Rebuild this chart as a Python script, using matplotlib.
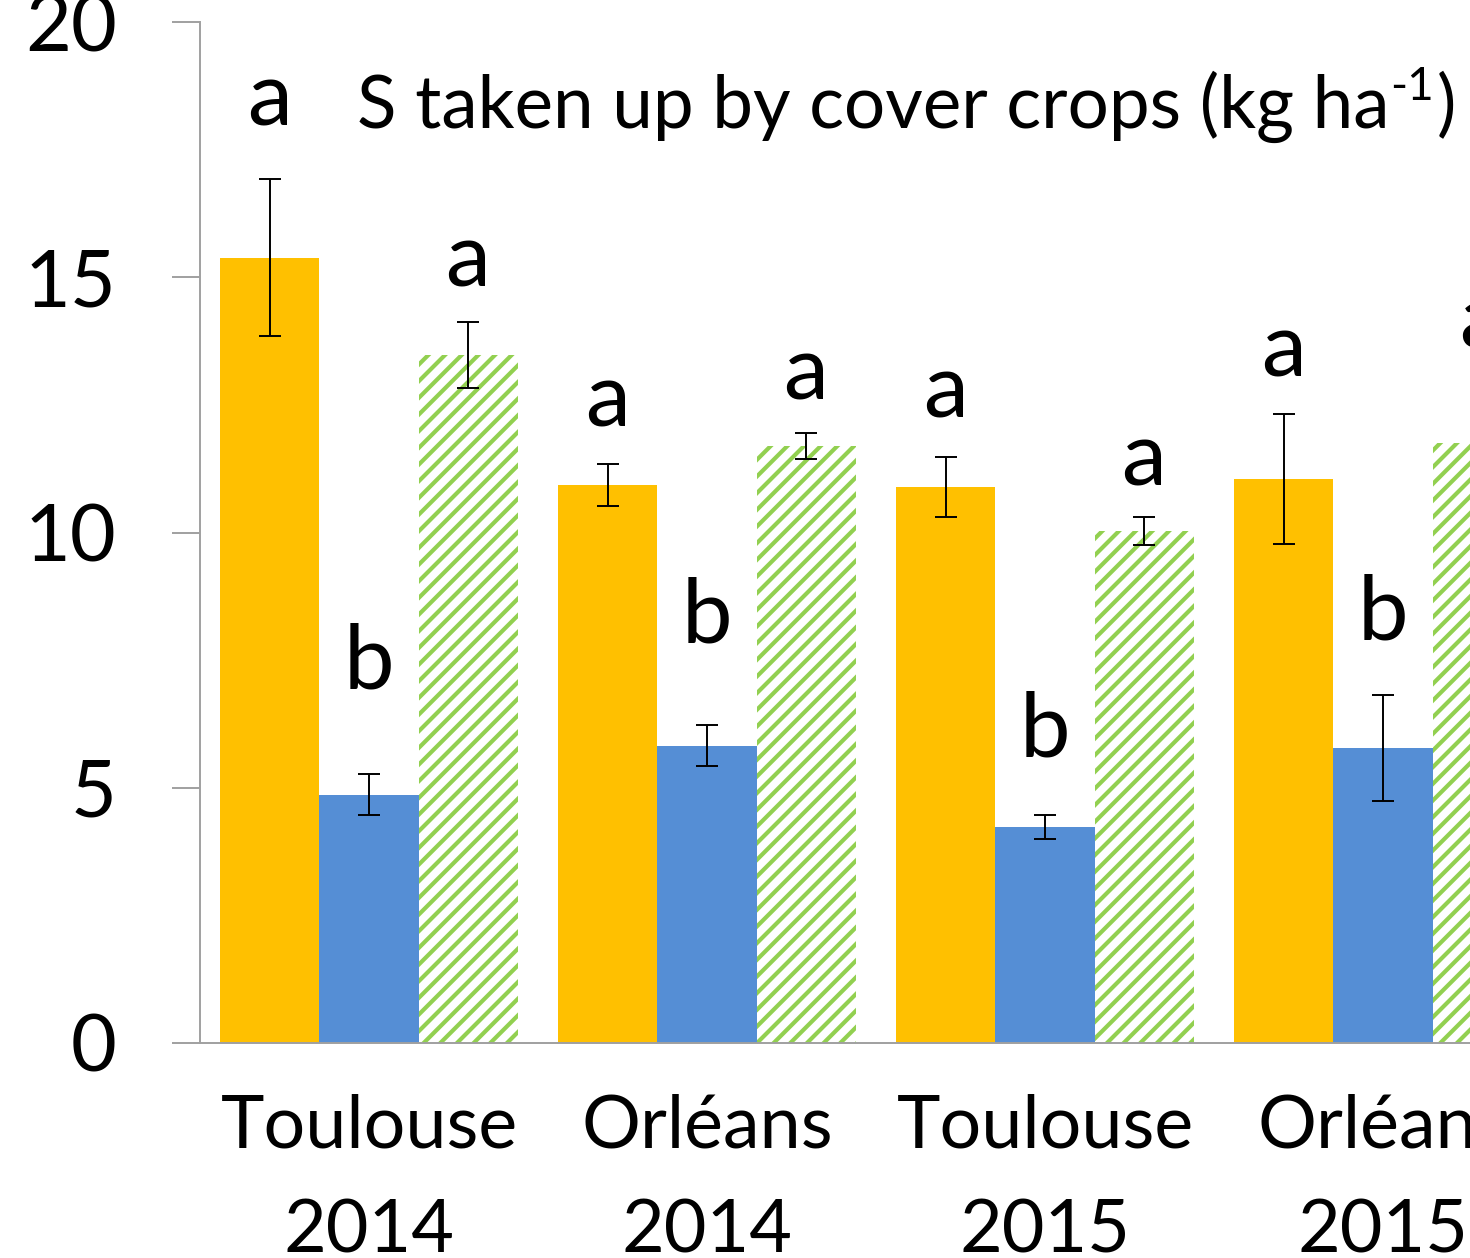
import numpy as np
import matplotlib
matplotlib.use("Agg")
import matplotlib.pyplot as plt

# values
sites = ["Toulouse\n2014", "Orléans\n2014", "Toulouse\n2015", "Orléans\n2015"]
orange_vals = [15.38, 10.93, 10.89, 11.05]
orange_err = [1.54, 0.42, 0.59, 1.28]
blue_vals = [4.86, 5.82, 4.23, 5.78]
blue_err = [0.40, 0.40, 0.24, 1.04]
green_vals = [13.48, 11.69, 10.03, 11.75]
green_err = [0.65, 0.26, 0.28, 0.60]

# significance letters and the height of their baselines
orange_letters = ["a", "a", "a", "a"]
blue_letters = ["b", "b", "b", "b"]
green_letters = ["a", "a", "a", "a"]
orange_lab_y = [17.98, 12.07, 12.26, 13.05]
blue_lab_y = [6.95, 7.84, 5.62, 7.90]
green_lab_y = [14.81, 12.60, 10.93, 13.63]

FONT = "Lato"
plt.rcParams['font.family'] = [FONT, 'DejaVu Sans']
plt.rcParams['hatch.linewidth'] = 3.0

ORANGE = "#FFC000"
BLUE = "#558ED5"
GREEN = "#92D050"
GREY = "#A0A0A0"

fig = plt.figure(figsize=(14.7, 12.58), dpi=100)
ax = fig.add_axes([200/1470, 215/1258, 1270/1470, 1021/1258])

x = np.arange(len(sites))
w = 0.293

ax.bar(x - w, orange_vals, w, color=ORANGE, linewidth=0)
ax.bar(x, blue_vals, w, color=BLUE, linewidth=0)
ax.bar(x + w, green_vals, w, color="white", edgecolor=GREEN, linewidth=0, hatch="//")

for off, v, e in [(-w, orange_vals, orange_err), (0, blue_vals, blue_err), (w, green_vals, green_err)]:
    ax.errorbar(x + off, v, yerr=e, fmt="none", ecolor="black", elinewidth=1.4,
                capsize=8, capthick=1.4)

for off, letters, ys in [(-w, orange_letters, orange_lab_y), (0, blue_letters, blue_lab_y),
                         (w, green_letters, green_lab_y)]:
    for xi, l, yy in zip(x, letters, ys):
        ax.text(xi + off, yy, l, ha="center", va="baseline", fontsize=65, clip_on=False)

ax.set_xlim(-0.5, -0.5 + 1270/338)
ax.set_ylim(0, 20)
ax.set_yticks([0, 5, 10, 15, 20])
ax.set_xticks(x)
ax.set_xticklabels(sites, linespacing=1.72)

for s in ["top", "right"]:
    ax.spines[s].set_visible(False)
for s in ["left", "bottom"]:
    ax.spines[s].set_color(GREY)
    ax.spines[s].set_linewidth(1.4)

ax.tick_params(axis="y", direction="out", length=20, width=1.4, color=GREY,
               labelsize=57, pad=40)
ax.tick_params(axis="x", length=0, labelsize=53, pad=36)

# title with a real superscript hyphen
tx, ty = -0.0355, 17.92
t1 = ax.text(tx, ty, "S taken up by cover crops (kg ha", ha="left", va="baseline", fontsize=52.5)
fig.canvas.draw()
r = fig.canvas.get_renderer()
w1 = t1.get_window_extent(r).width
t2 = ax.annotate("-1", xy=(tx, ty), xycoords="data", xytext=(w1 + 1, 28),
                 textcoords="offset pixels", ha="left", va="baseline", fontsize=33)
fig.canvas.draw()
w2 = t2.get_window_extent(r).width
ax.annotate(")", xy=(tx, ty), xycoords="data", xytext=(w1 + w2 + 3, 0),
            textcoords="offset pixels", ha="left", va="baseline", fontsize=52.5)

fig.savefig("out.png", dpi=100)
